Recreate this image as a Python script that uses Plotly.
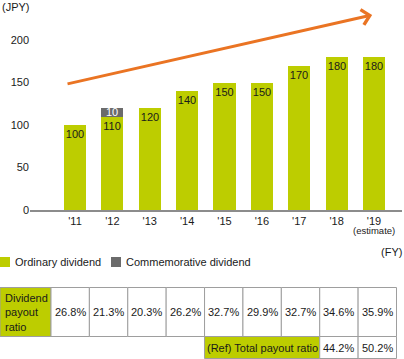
import plotly.graph_objects as go

# ---------------- data ----------------
years = ["'11", "'12", "'13", "'14", "'15", "'16", "'17", "'18", "'19"]
year_note = "(estimate)"
ordinary = [100, 110, 120, 140, 150, 150, 170, 180, 180]
commemorative = [0, 10, 0, 0, 0, 0, 0, 0, 0]
payout_ratio = ["26.8%", "21.3%", "20.3%", "26.2%", "32.7%", "29.9%", "32.7%", "34.6%", "35.9%"]
total_payout = ["", "", "", "", "", "", "", "44.2%", "50.2%"]
y_ticks = [0, 50, 100, 150, 200]
series_names = ["Ordinary dividend", "Commemorative dividend"]
row_label = "Dividend<br>payout<br>ratio"
ref_label = "(Ref) Total payout ratio"
trend_start = (-0.24, 148)
trend_end = (7.95, 229.5)

# ---------------- style ----------------
W, H = 404, 359
GREEN = "#BDCD00"
GRAY = "#6B6B6B"
ORANGE = "#EA7423"
BORDER = "#9E9E9E"
TXT = "#1a1a1a"
FONT = "Liberation Sans, Arial, sans-serif"


def fx(px):
    return px / W


def fy(py):
    return 1 - py / H


def label(x, y, text, xanchor="center", size=11, color=TXT, xref="paper", yref="paper", align="center"):
    return dict(x=x, y=y, xref=xref, yref=yref, xanchor=xanchor, yanchor="middle",
                align=align, text=text, showarrow=False,
                font=dict(size=size, color=color, family=FONT))


xpos = list(range(len(years)))

fig = go.Figure()
fig.add_trace(go.Bar(
    x=xpos, y=ordinary, name=series_names[0], marker=dict(color=GREEN, line=dict(width=0)),
    width=0.59, text=[str(v) for v in ordinary], textposition="inside",
    insidetextanchor="end", constraintext="none", textangle=0,
    textfont=dict(color=TXT, size=11, family=FONT), showlegend=False,
))
fig.add_trace(go.Bar(
    x=xpos, y=commemorative, name=series_names[1], marker=dict(color=GRAY, line=dict(width=0)),
    width=0.59, textposition="none", showlegend=False,
))

annotations = []
shapes = []

# commemorative labels
for i, c in enumerate(commemorative):
    if c:
        annotations.append(label(xpos[i], ordinary[i] + c / 2, str(c), color="white",
                                 xref="x", yref="y"))

# trend arrow
annotations.append(dict(x=trend_end[0], y=trend_end[1], ax=trend_start[0], ay=trend_start[1],
                        xref="x", yref="y", axref="x", ayref="y", text="", showarrow=True,
                        arrowhead=4, arrowsize=1, arrowwidth=3, arrowcolor=ORANGE))

# "(estimate)" under last tick
annotations.append(label(xpos[-1], fy(230.5), year_note, size=9.5, xref="x"))

# unit labels
annotations.append(label(0, fy(7), "(JPY)", xanchor="left"))
annotations.append(label(1, fy(252), "(FY)", xanchor="right"))

# legend (manual)
legend_items = [(0, GREEN, series_names[0]), (111, GRAY, series_names[1])]
for lx, col, name in legend_items:
    shapes.append(dict(type="rect", xref="paper", yref="paper", x0=fx(lx), x1=fx(lx + 10),
                       y0=fy(267), y1=fy(257), fillcolor=col, line=dict(width=0)))
    annotations.append(label(fx(lx + 13), fy(262), name, xanchor="left"))

# table
col0 = 51
cw = (396.5 - col0) / len(years)
r1_top, r1_bot, r2_bot = 287.5, 336.5, 358.5
shapes.append(dict(type="rect", xref="paper", yref="paper", x0=fx(0), x1=fx(col0),
                   y0=fy(r1_bot), y1=fy(r1_top), fillcolor=GREEN, line=dict(color=BORDER, width=1)))
annotations.append(label(fx(3), fy(312), row_label, xanchor="left", align="left"))
for i, v in enumerate(payout_ratio):
    x0 = col0 + i * cw
    shapes.append(dict(type="rect", xref="paper", yref="paper", x0=fx(x0), x1=fx(x0 + cw),
                       y0=fy(r1_bot), y1=fy(r1_top), fillcolor="white", line=dict(color=BORDER, width=1)))
    annotations.append(label(fx(x0 + cw / 2), fy(312), v))

# second row
filled = [i for i, v in enumerate(total_payout) if v]
first = filled[0]
lab_x0 = col0 + (first - 3) * cw
lab_x1 = col0 + first * cw
shapes.append(dict(type="rect", xref="paper", yref="paper", x0=fx(lab_x0), x1=fx(lab_x1),
                   y0=fy(r2_bot), y1=fy(r1_bot), fillcolor=GREEN, line=dict(color=BORDER, width=1)))
annotations.append(label(fx((lab_x0 + lab_x1) / 2), fy(348), ref_label))
for i in filled:
    x0 = col0 + i * cw
    shapes.append(dict(type="rect", xref="paper", yref="paper", x0=fx(x0), x1=fx(x0 + cw),
                       y0=fy(r2_bot), y1=fy(r1_bot), fillcolor="white", line=dict(color=BORDER, width=1)))
    annotations.append(label(fx(x0 + cw / 2), fy(348), total_payout[i]))

# axes geometry
x_left_px, x_right_px = 30, 402
c0_px, step_px = 75, 37.375
y0_px, ppu = 210, 0.85
top_px = 10

fig.update_layout(
    width=W, height=H, autosize=False,
    margin=dict(l=0, r=0, t=0, b=0, pad=0, autoexpand=False),
    paper_bgcolor="white", plot_bgcolor="white",
    barmode="stack", bargap=0,
    font=dict(family=FONT, size=11, color=TXT),
    xaxis=dict(domain=[fx(x_left_px), fx(x_right_px)],
               range=[(x_left_px - c0_px) / step_px, (x_right_px - c0_px) / step_px],
               tickvals=xpos, ticktext=years, showgrid=False, zeroline=False,
               showline=True, linecolor="#8C8C8C", linewidth=2, ticks="", automargin=False,
               tickfont=dict(size=11, color=TXT, family=FONT), fixedrange=True),
    yaxis=dict(domain=[fy(y0_px), fy(top_px)],
               range=[0, (y0_px - top_px) / ppu], automargin=False,
               tickvals=y_ticks, showgrid=False, zeroline=False, showline=False, ticks="",
               tickfont=dict(size=11, color=TXT, family=FONT), fixedrange=True),
    shapes=shapes, annotations=annotations, showlegend=False,
)

fig.write_html(
    "out.html",
    config={"displayModeBar": False},
    post_script="document.body.style.margin='0';document.body.style.overflow='hidden';",
)
